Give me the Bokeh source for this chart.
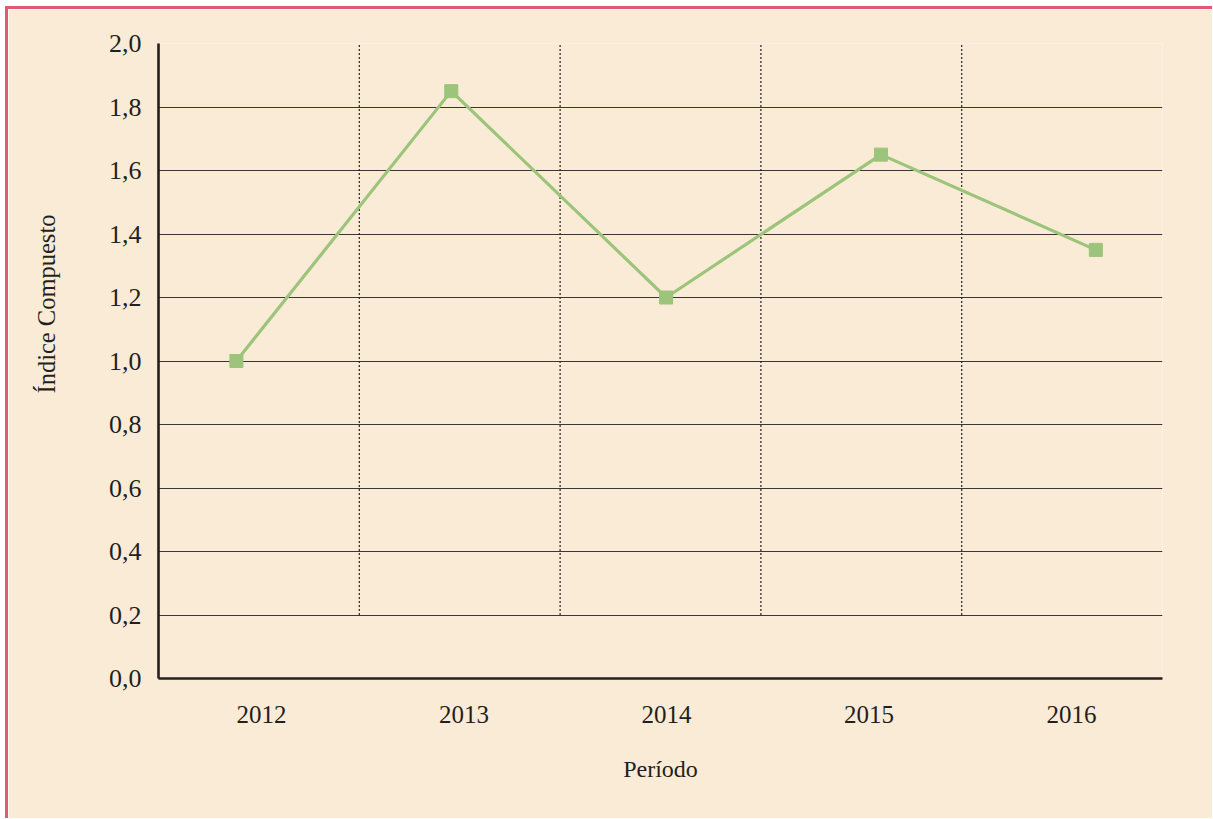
from bokeh.plotting import figure
from bokeh.models import Range1d, FixedTicker, CustomJSTickFormatter, Title, ColumnDataSource, Div
from bokeh.layouts import column, row
from bokeh.embed import file_html
from bokeh.resources import INLINE

# ---- data ----
years = ["2012", "2013", "2014", "2015", "2016"]
indice = [1.00, 1.85, 1.20, 1.65, 1.35]
y_ticks = [0.0, 0.2, 0.4, 0.6, 0.8, 1.0, 1.2, 1.4, 1.6, 1.8, 2.0]
y_label = "Índice Compuesto"
x_label = "Período"

# ---- style / layout ----
BG = "#FAEBD7"
GREEN = "#9CC47A"
BORDER = "#DD5C70"
INK = "#231F20"
FONT = "Liberation Serif"
W, H, BW = 1204, 809, 3

# category bands are 1 unit wide; the series and the labels sit at slightly different pitches
PT0, PT_STEP = 0.388, 1.07
LB0, LB_STEP = 0.513, 1.0085

n = len(years)
pt_x = [PT0 + i * PT_STEP for i in range(n)]
lb_x = [round(LB0 + i * LB_STEP, 4) for i in range(n)]
sep_x = [i + 1 for i in range(n - 1)]

p = figure(width=W, height=H, x_range=Range1d(0, n), y_range=Range1d(y_ticks[0], y_ticks[-1]),
           output_backend="svg", toolbar_location=None,
           min_border_left=150, min_border_right=50, min_border_top=34, min_border_bottom=140)
p.background_fill_color = BG
p.border_fill_color = BG
p.outline_line_color = None

p.xgrid.visible = False
p.ygrid.ticker = FixedTicker(ticks=y_ticks[1:-1])
p.ygrid.grid_line_color = "#3A3536"
p.ygrid.grid_line_width = 1.2

for ax in (p.xaxis[0], p.yaxis[0]):
    ax.axis_line_color = INK
    ax.axis_line_width = 2.6
    ax.major_tick_line_color = None
    ax.minor_tick_line_color = None
    ax.major_label_text_font = FONT
    ax.major_label_text_color = INK

p.yaxis.ticker = FixedTicker(ticks=y_ticks)
p.yaxis.formatter = CustomJSTickFormatter(code="return tick.toFixed(1).replace('.', ',');")
p.yaxis.major_label_text_font_size = "26px"
p.yaxis.major_label_standoff = 11

p.xaxis.ticker = FixedTicker(ticks=lb_x)
p.xaxis.major_label_overrides = {t: y for t, y in zip(lb_x, years)}
p.xaxis.major_label_text_font_size = "25px"
p.xaxis.major_label_standoff = 21
p.xaxis.axis_label = x_label
p.xaxis.axis_label_text_font = FONT
p.xaxis.axis_label_text_font_size = "24px"
p.xaxis.axis_label_text_font_style = "normal"
p.xaxis.axis_label_text_color = INK
p.xaxis.axis_label_standoff = 30

# spacing panel between the y axis and its title, then the title itself
p.add_layout(Title(text=" ", standoff=12, text_font=FONT, text_font_size="24.5px"), "left")
p.add_layout(Title(text=y_label, align="left", offset=285, standoff=10, text_font=FONT,
                   text_font_size="24.5px", text_font_style="normal", text_color=INK), "left")

# dotted separators between periods
p.segment(x0=sep_x, y0=[y_ticks[1]] * len(sep_x), x1=sep_x, y1=[y_ticks[-1]] * len(sep_x),
          line_color="#222222", line_width=1.2, line_dash="2 2")

src = ColumnDataSource(dict(x=pt_x, y=indice, year=years))
p.line("x", "y", source=src, line_color=GREEN, line_width=3.2)
p.scatter("x", "y", source=src, marker="square", size=13, fill_color=GREEN, line_color=GREEN)

top_bar = Div(width=W + BW, height=BW, margin=0, styles={"background-color": BORDER})
left_bar = Div(width=BW, height=H, margin=0, styles={"background-color": BORDER})
layout = column(top_bar, row(left_bar, p, spacing=0), spacing=0, margin=(6, 0, 0, 5))

open("out.html", "w").write(file_html(layout, INLINE))
